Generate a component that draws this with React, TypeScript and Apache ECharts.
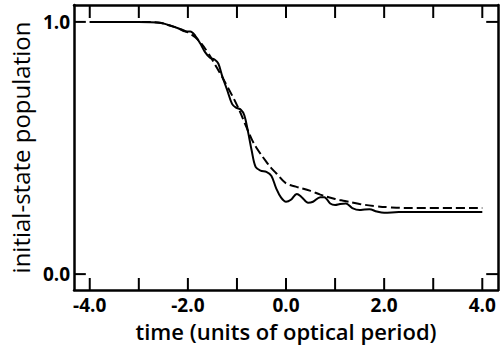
import React, { useEffect, useRef } from "react";
import * as echarts from "echarts";

const solidX = [-4.0, -3.0, -2.6, -2.4, -2.2, -2.05, -1.95, -1.85, -1.75, -1.65, -1.55, -1.45, -1.38, -1.3, -1.2, -1.1, -1.02, -0.92, -0.85, -0.78, -0.7, -0.62, -0.52, -0.4, -0.3, -0.2, -0.1, 0.0, 0.1, 0.22, 0.32, 0.45, 0.55, 0.7, 0.78, 0.9, 1.0, 1.1, 1.22, 1.35, 1.5, 1.6, 1.7, 1.85, 2.0, 2.3, 3.0, 4.0];
const solidY = [1.0, 1.0, 0.998, 0.988, 0.975, 0.962, 0.962, 0.945, 0.915, 0.88, 0.858, 0.85, 0.835, 0.785, 0.73, 0.675, 0.66, 0.652, 0.63, 0.57, 0.49, 0.425, 0.41, 0.405, 0.39, 0.34, 0.303, 0.287, 0.295, 0.318, 0.305, 0.283, 0.287, 0.305, 0.305, 0.28, 0.274, 0.278, 0.28, 0.262, 0.254, 0.256, 0.257, 0.248, 0.243, 0.246, 0.246, 0.246];

const dashX = [-4.0, -3.0, -2.6, -2.4, -2.2, -2.0, -1.8, -1.6, -1.4, -1.2, -1.0, -0.8, -0.7, -0.6, -0.4, -0.3, -0.2, 0.0, 0.2, 0.5, 0.7, 1.0, 1.2, 1.5, 1.8, 2.1, 2.5, 4.0];
const dashY = [1.0, 1.0, 0.997, 0.988, 0.975, 0.958, 0.93, 0.88, 0.815, 0.745, 0.67, 0.58, 0.535, 0.5, 0.445, 0.42, 0.4, 0.36, 0.347, 0.33, 0.315, 0.298, 0.29, 0.278, 0.27, 0.265, 0.262, 0.262];

const xTicks = [-4, -3, -2, -1, 0, 1, 2, 3, 4];
const xLabels = [-4, -2, 0, 2, 4];
const yTicks = [0, 1];

const xTitle = "time (units of optical period)";
const yTitle = "initial-state population";

const X_MIN = -4.32;
const X_MAX = 4.32;
const Y_MIN = -0.063;
const Y_MAX = 1.067;

// plot area size in pixels (500x347 canvas minus grid margins)
const PLOT_W = 500 - 66 - 2;
const PLOT_H = 347 - 5 - 57;
const X_PER_PX = (X_MAX - X_MIN) / PLOT_W;
const Y_PER_PX = (Y_MAX - Y_MIN) / PLOT_H;

export default function App() {
  const ref = useRef<HTMLDivElement>(null);
  useEffect(() => {
    if (!ref.current) return;
    const chart = echarts.init(ref.current, null, { renderer: "svg" });
    const font = "'Open Sans', 'Noto Sans', sans-serif";
    const axisLine = () => ({ show: true, onZero: false, lineStyle: { color: "#000", width: 2.5 } });

    const tickSeries = (a: number[], b: number[]) => ({
      type: "line",
      data: [a, b],
      showSymbol: false,
      silent: true,
      z: 5,
      lineStyle: { color: "#000", width: 2 },
    });
    const ticks: any[] = [];
    xTicks.forEach((v) => {
      ticks.push(tickSeries([v, Y_MIN], [v, Y_MIN + 12 * Y_PER_PX]));
      ticks.push(tickSeries([v, Y_MAX], [v, Y_MAX - 13 * Y_PER_PX]));
    });
    yTicks.forEach((v) => {
      ticks.push(tickSeries([X_MIN, v], [X_MIN + 12 * X_PER_PX, v]));
      ticks.push(tickSeries([X_MAX, v], [X_MAX - 12 * X_PER_PX, v]));
    });

    chart.setOption({
      animation: false,
      grid: { left: 66, right: 2, top: 5, bottom: 57 },
      xAxis: [
        {
          type: "value",
          min: X_MIN,
          max: X_MAX,
          position: "bottom",
          axisLine: axisLine(),
          axisTick: { show: false },
          axisLabel: {
            customValues: xLabels,
            formatter: (v: number) => v.toFixed(1),
            color: "#000",
            fontFamily: font,
            fontWeight: "bold",
            fontSize: 19,
            margin: 5,
          },
          splitLine: { show: false },
          name: xTitle,
          nameLocation: "middle",
          nameGap: 30,
          nameTextStyle: { color: "#000", fontFamily: font, fontWeight: 600, fontSize: 22 },
        },
        {
          type: "value",
          min: X_MIN,
          max: X_MAX,
          position: "top",
          axisLine: axisLine(),
          axisTick: { show: false },
          axisLabel: { show: false },
          splitLine: { show: false },
        },
      ],
      yAxis: [
        {
          type: "value",
          min: Y_MIN,
          max: Y_MAX,
          position: "left",
          axisLine: axisLine(),
          axisTick: { show: false },
          axisLabel: {
            customValues: yTicks,
            formatter: (v: number) => v.toFixed(1),
            color: "#000",
            fontFamily: font,
            fontWeight: "bold",
            fontSize: 19,
            margin: 4,
          },
          splitLine: { show: false },
          name: yTitle,
          nameLocation: "middle",
          nameGap: 32,
          nameTextStyle: { color: "#000", fontFamily: font, fontWeight: "normal", fontSize: 24 },
        },
        {
          type: "value",
          min: Y_MIN,
          max: Y_MAX,
          position: "right",
          axisLine: axisLine(),
          axisTick: { show: false },
          axisLabel: { show: false },
          splitLine: { show: false },
        },
      ],
      series: [
        {
          type: "line",
          data: solidX.map((x, i) => [x, solidY[i]]),
          showSymbol: false,
          smooth: 0.35,
          lineStyle: { color: "#000", width: 2 },
        },
        {
          type: "line",
          data: dashX.map((x, i) => [x, dashY[i]]),
          showSymbol: false,
          smooth: 0.4,
          lineStyle: { color: "#000", width: 2, type: [9, 4] },
        },
        ...ticks,
      ],
    });
    return () => chart.dispose();
  }, []);
  return <div ref={ref} style={{ width: 500, height: 347, position: "absolute", left: 0, top: 0 }} />;
}
